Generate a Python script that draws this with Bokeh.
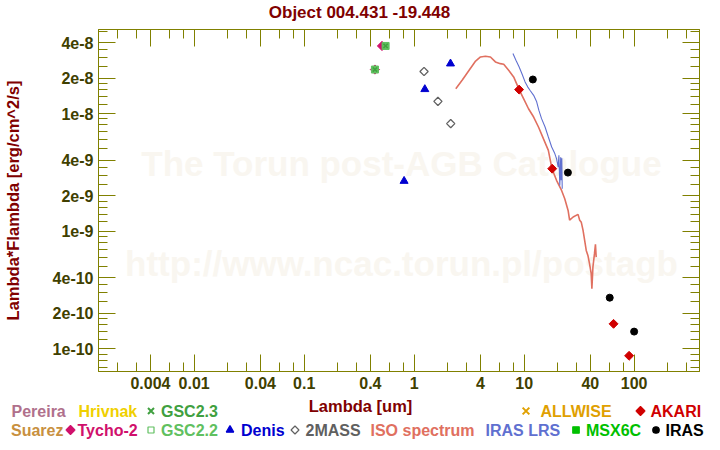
import numpy as np
from bokeh.plotting import figure
from bokeh.layouts import column
from bokeh.models import LogAxis, FixedTicker, CustomJSTickFormatter, Label, Range1d
from bokeh.core.properties import value
from bokeh.embed import file_html
from bokeh.resources import INLINE

# ---------------- data (wavelength in um, lambda*F_lambda in erg/cm^2/s) ----------------
tycho_lam = [0.44, 0.51]
tycho_flux = [2.37e-8, 3.76e-8]
gsc22_lam = [0.44, 0.55]
gsc22_flux = [2.37e-8, 3.76e-8]
gsc23_lam = [0.44, 0.55]
gsc23_flux = [2.37e-8, 3.76e-8]
denis_lam = [0.81, 1.25, 2.14]
denis_flux = [2.67e-9, 1.61e-8, 2.66e-8]
twomass_lam = [1.23, 1.645, 2.15]
twomass_flux = [2.28e-8, 1.27e-8, 8.22e-9]
akari_lam = [9.0, 18.0, 65.0, 90.0]
akari_flux = [1.60e-8, 3.40e-9, 1.63e-10, 8.72e-11]
iras_lam = [12.0, 25.0, 60.0, 100.0]
iras_flux = [1.95e-8, 3.15e-9, 2.72e-10, 1.40e-10]

iso_lam = [2.39, 2.75, 3.16, 3.62, 4.01, 4.45, 4.94, 5.48, 6.08, 6.52, 7.23, 8.03,
           9.01, 9.88, 10.96, 12.2, 13.5, 14.96, 16.6, 17.9, 19.7, 21.9, 23.4, 25.1,
           25.9, 27.9, 30.9, 32.0, 33.1, 34.3, 35.5, 36.7, 38.0, 39.3, 40.7, 41.3,
           42.2, 43.6, 44.5, 45.2]
iso_flux = [1.63e-8, 1.94e-8, 2.34e-8, 2.80e-8, 3.03e-8, 3.07e-8, 3.03e-8, 2.75e-8,
            2.66e-8, 2.63e-8, 2.34e-8, 2.05e-8, 1.60e-8, 1.34e-8, 1.10e-8, 9.35e-9,
            7.69e-9, 6.12e-9, 4.87e-9, 3.40e-9, 2.71e-9, 2.22e-9, 1.89e-9, 1.50e-9,
            1.24e-9, 1.32e-9, 1.39e-9, 1.24e-9, 1.19e-9, 1.02e-9, 8.35e-10, 6.86e-10,
            6.22e-10, 5.29e-10, 4.35e-10, 3.24e-10, 4.95e-10, 6.44e-10, 7.73e-10, 6.02e-10]

lrs_lam = [7.91, 8.42, 9.01, 9.53, 10.2, 10.8, 11.3, 12.2, 13.0, 13.6, 14.4, 15.5,
           16.6, 17.8, 19.0, 19.7, 20.4, 20.7, 21.1, 21.5, 21.7, 22.0, 22.2]
lrs_flux = [3.24e-8, 2.84e-8, 2.49e-8, 2.19e-8, 1.86e-8, 1.68e-8, 1.58e-8, 1.43e-8,
            1.26e-8, 1.07e-8, 9.06e-9, 7.69e-9, 6.32e-9, 5.20e-9, 4.57e-9, 4.14e-9,
            3.51e-9, 4.42e-9, 2.45e-9, 4.25e-9, 2.71e-9, 4.17e-9, 2.30e-9]

# ---------------- ticks ----------------
x_major = [0.004, 0.01, 0.04, 0.1, 0.4, 1, 4, 10, 40, 100]
x_labels = ["0.004", "0.01", "0.04", "0.1", "0.4", "1", "4", "10", "40", "100"]
x_minor = [0.002, 0.003, 0.006, 0.008, 0.02, 0.03, 0.06, 0.08, 0.2, 0.3, 0.6, 0.8,
           2, 3, 6, 8, 20, 30, 60, 80, 200, 300]
y_major = [1e-10, 2e-10, 4e-10, 1e-9, 2e-9, 4e-9, 1e-8, 2e-8, 4e-8]
y_labels = ["1e-10", "2e-10", "4e-10", "1e-9", "2e-9", "4e-9", "1e-8", "2e-8", "4e-8"]
y_minor_mult = [1.2, 1.4, 1.6, 1.8, 2.5, 3, 3.5, 5, 6, 7, 8, 9]
y_minor = [m * d for d in [1e-11, 1e-10, 1e-9, 1e-8] for m in y_minor_mult]

# ---------------- legend entries ----------------
legend_names = ["Pereira", "Hrivnak", "GSC2.3", "ALLWISE", "AKARI",
                "Suarez", "Tycho-2", "GSC2.2", "Denis", "2MASS",
                "ISO spectrum", "IRAS LRS", "MSX6C", "IRAS"]
legend_colors = ["#b0708c", "#f0d000", "#40a040", "#e0a000", "#d00000",
                 "#c89040", "#d0106c", "#60c060", "#0000d0", "#606060",
                 "#e07060", "#6070d0", "#00c000", "#000000"]

TITLE = "Object 004.431 -19.448"
XTITLE = "Lambda [um]"
YTITLE = "Lambda*Flambda [erg/cm^2/s]"

FRAME = "#808000"
TICKTXT = "#404000"
MAROON = "#800000"
FONT = "Liberation Sans"

W = 720
H0 = 22           # title strip height
L, R, T, B = 93, 21, 7, 25
H1 = 374          # main figure height (frame top at 29, bottom at 371)
H2 = 450 - H0 - H1  # legend strip height


def strip(h, y0):
    f = figure(width=W, height=h, x_range=Range1d(0, W), y_range=Range1d(y0 + h, y0),
               x_axis_type=None, y_axis_type=None, output_backend="svg",
               toolbar_location=None, min_border=0, title=None)
    f.outline_line_color = None
    f.background_fill_color = "white"
    f.border_fill_color = "white"
    f.grid.visible = False
    return f


t = strip(H0, 0)
t.text(x=[359], y=[11.5], text=[TITLE], text_align="center", text_baseline="middle",
       text_font=value(FONT), text_font_style="bold", text_font_size="17px",
       text_color=MAROON)

p = figure(width=W, height=H1, x_axis_type="log", y_axis_type="log",
           x_range=Range1d(0.001349, 393), y_range=Range1d(6.41e-11, 5.19e-8),
           output_backend="svg", toolbar_location=None, title=None,
           min_border_left=L, min_border_right=R, min_border_top=T, min_border_bottom=B)
p.grid.visible = False
p.background_fill_color = "white"
p.border_fill_color = "white"
p.outline_line_color = FRAME
p.outline_line_width = 1


def fmt(vals, labs):
    return CustomJSTickFormatter(args=dict(tv=vals, tl=labs), code="""
        for (let i = 0; i < tv.length; i++) {
            if (Math.abs(Math.log10(tick) - Math.log10(tv[i])) < 1e-6) return tl[i];
        }
        return '';""")


blank = CustomJSTickFormatter(code="return '';")


def style(ax, major, minor, formatter, size, standoff):
    ax.ticker = FixedTicker(ticks=major, minor_ticks=minor)
    ax.formatter = formatter
    ax.axis_line_color = FRAME
    ax.major_tick_line_color = FRAME
    ax.minor_tick_line_color = FRAME
    ax.major_tick_in = 17
    ax.major_tick_out = 0
    ax.minor_tick_in = 9
    ax.minor_tick_out = 0
    ax.major_label_text_font = FONT
    ax.major_label_text_font_style = "bold"
    ax.major_label_text_font_size = size
    ax.major_label_text_color = TICKTXT
    ax.major_label_standoff = standoff


style(p.xaxis[0], x_major, x_minor, fmt(x_major, x_labels), "16px", 5)
style(p.yaxis[0], y_major, y_minor, fmt(y_major, y_labels), "16px", 5)
ya = p.yaxis[0]
ya.axis_label = YTITLE
ya.axis_label_text_font = FONT
ya.axis_label_text_font_style = "bold"
ya.axis_label_text_font_size = "16.5px"
ya.axis_label_text_color = MAROON
ya.axis_label_standoff = 28

top_ax = LogAxis()
right_ax = LogAxis()
style(top_ax, x_major, x_minor, blank, "1px", 0)
style(right_ax, y_major, y_minor, blank, "1px", 0)
p.add_layout(top_ax, "above")
p.add_layout(right_ax, "right")

# ---------------- watermark ----------------
fw = W - L - R
fh = H1 - T - B
for txt, ycan in [("The Torun post-AGB Catalogue", 163), ("http://www.ncac.torun.pl/postagb", 263)]:
    p.add_layout(Label(x=fw / 2, y=(H0 + T + fh) - ycan, x_units="screen", y_units="screen",
                       text=txt, text_align="center", text_baseline="middle",
                       text_font=FONT, text_font_style="bold", text_font_size="35px",
                       text_color="#f9f6f0", level="underlay"))

# ---------------- spectra ----------------
p.line(iso_lam, iso_flux, line_color=legend_colors[10], line_width=1.6)
p.line(lrs_lam, lrs_flux, line_color=legend_colors[11], line_width=1.1)

# ---------------- photometry ----------------
p.scatter(tycho_lam, tycho_flux, marker="square", angle=np.pi / 4, size=6.5,
          fill_color=legend_colors[6], line_color=legend_colors[6])
p.scatter(gsc22_lam, gsc22_flux, marker="square", size=7,
          fill_color=legend_colors[7], line_color=legend_colors[7])
p.scatter(gsc23_lam, gsc23_flux, marker="x", size=6, line_color=legend_colors[2], line_width=1.5)
p.scatter(denis_lam, denis_flux, marker="triangle", size=8,
          fill_color=legend_colors[8], line_color=legend_colors[8])
p.scatter(twomass_lam, twomass_flux, marker="square", angle=np.pi / 4, size=5.8,
          fill_color=None, line_color=legend_colors[9], line_width=1.3)
p.scatter(akari_lam, akari_flux, marker="square", angle=np.pi / 4, size=6.3,
          fill_color=legend_colors[4], line_color=legend_colors[4])
p.scatter(iras_lam, iras_flux, marker="circle", size=7,
          fill_color="black", line_color="black")

# ---------------- strip below: x-axis title and legend (canvas pixel coordinates) ----------------
q = strip(H2, H0 + H1)
q.text(x=[360], y=[405.5], text=[XTITLE], text_align="center",
       text_baseline="middle", text_font=value(FONT), text_font_style="bold",
       text_font_size="16.5px", text_color=MAROON)

legend_row = [0, 0, 0, 0, 0, 1, 1, 1, 1, 1, 1, 1, 1, 1]
legend_x = [11, 78, 160.5, 540, 650, 10.5, 77, 160.5, 240.5, 305, 370, 485, 585.5, 665]
row_mid = [410.5, 429.5]
q.text(x=legend_x, y=[row_mid[r] for r in legend_row], text=legend_names,
       text_color=legend_colors, text_align="left", text_baseline="middle",
       text_font=value(FONT), text_font_style="bold", text_font_size="16px")

sym_idx = [2, 3, 4, 6, 7, 8, 9, 12, 13]
sym_marker = ["x", "x", "square", "square", "square", "triangle", "square", "square", "circle"]
sym_angle = [0, 0, np.pi / 4, np.pi / 4, 0, 0, np.pi / 4, 0, 0]
sym_x = [150.5, 525.5, 640, 70, 150.5, 229.5, 294.5, 575.5, 655.5]
sym_size = [8.5, 9.5, 6.3, 6.3, 6, 7.5, 5.6, 6.5, 6.5]
sym_fill = [True, True, True, True, False, True, False, True, True]
for i, mk, ang, sx, sz, fl in zip(sym_idx, sym_marker, sym_angle, sym_x, sym_size, sym_fill):
    col = legend_colors[i]
    q.scatter([sx], [row_mid[legend_row[i]]], marker=mk, angle=ang, size=sz,
              fill_color=col if fl else None, line_color=col,
              line_width=2 if mk == "x" else 1.2)

for f in (t, p, q):
    try:
        f.frame_align = False
    except Exception:
        pass

layout = column(t, p, q, spacing=0)
open("out.html", "w").write(file_html(layout, INLINE))
